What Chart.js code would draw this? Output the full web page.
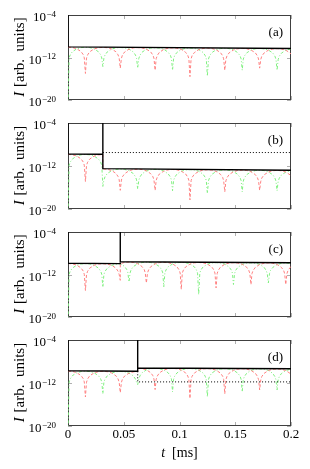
<!DOCTYPE html>
<html>
<head>
<meta charset="utf-8">
<script src="https://cdn.jsdelivr.net/npm/chart.js@4.4.0/dist/chart.umd.min.js"></script>
<style>
  body { margin: 0; background: #fff; }
  #wrap { position: relative; width: 310px; height: 469px; background: #fff; }
  #wrap canvas { position: absolute; left: 0; top: 0; }
</style>
</head>
<body>
<div id="wrap">
  <canvas id="pa" width="310" height="469"></canvas>
  <canvas id="pb" width="310" height="469"></canvas>
  <canvas id="pc" width="310" height="469"></canvas>
  <canvas id="pd" width="310" height="469"></canvas>
</div>
<script>
// sample times [ms], denser next to the dips; switch instants appear twice
const tGreen = [
  0, 0.001, 0.002, 0.0039, 0.0078, 0.0117, 0.0156, 0.0195, 0.0234, 0.0273, 0.0293, 0.0303,
  0.03125, 0.0322, 0.0332, 0.0352, 0.0391, 0.043, 0.0469, 0.0508, 0.0547, 0.0586, 0.0605, 0.0615,
  0.0625, 0.0635, 0.0645, 0.0664, 0.0703, 0.0742, 0.0781, 0.082, 0.0859, 0.0898, 0.0918, 0.0928,
  0.09375, 0.0947, 0.0957, 0.0977, 0.1016, 0.1055, 0.1094, 0.1133, 0.1172, 0.1211, 0.123, 0.124,
  0.125, 0.126, 0.127, 0.1289, 0.1328, 0.1367, 0.1406, 0.1445, 0.1484, 0.1523, 0.1543, 0.1553,
  0.15625, 0.1572, 0.1582, 0.1602, 0.1641, 0.168, 0.1719, 0.1758, 0.1797, 0.1836, 0.1855, 0.1865,
  0.1875, 0.1885, 0.1895, 0.1914, 0.1953, 0.1992, 0.2
];
const tRed = [
  0, 0.0039, 0.0078, 0.0117, 0.0137, 0.0146,
  0.015625, 0.0166, 0.0176, 0.0195, 0.0234, 0.0273, 0.03125, 0.03125, 0.0352, 0.0391, 0.043, 0.0449, 0.0459,
  0.046875, 0.0479, 0.0488, 0.0508, 0.0547, 0.0586, 0.0625, 0.0625, 0.0664, 0.0703, 0.0742, 0.0762, 0.0771,
  0.078125, 0.0791, 0.0801, 0.082, 0.0859, 0.0898, 0.0938, 0.0977, 0.1016, 0.1055, 0.1074, 0.1084,
  0.109375, 0.1104, 0.1113, 0.1133, 0.1172, 0.1211, 0.125, 0.1289, 0.1328, 0.1367, 0.1387, 0.1396,
  0.140625, 0.1416, 0.1426, 0.1445, 0.1484, 0.1523, 0.1563, 0.1602, 0.1641, 0.168, 0.1699, 0.1709,
  0.171875, 0.1729, 0.1738, 0.1758, 0.1797, 0.1836, 0.1875, 0.1914, 0.1953, 0.1992, 0.2
];
// panel (c) changes phase at its switch
const tGreenC = [
  0, 0.001, 0.002, 0.0039, 0.0078, 0.0117, 0.0156, 0.0195, 0.0234, 0.0273, 0.0293, 0.0303,
  0.03125, 0.0322, 0.0332, 0.0352, 0.0391, 0.043, 0.046875, 0.046875, 0.0508, 0.0527, 0.0537,
  0.0547, 0.0557, 0.0566, 0.0586, 0.0625, 0.0664, 0.0703, 0.0742, 0.0781, 0.082, 0.084, 0.085,
  0.0859, 0.0869, 0.0879, 0.0898, 0.0938, 0.0977, 0.1016, 0.1055, 0.1094, 0.1133, 0.1152, 0.1162,
  0.1172, 0.1182, 0.1191, 0.1211, 0.125, 0.1289, 0.1328, 0.1367, 0.1406, 0.1445, 0.1465, 0.1475,
  0.1484, 0.1494, 0.1504, 0.1523, 0.1563, 0.1602, 0.1641, 0.168, 0.1719, 0.1758, 0.1777, 0.1787,
  0.1797, 0.1807, 0.1816, 0.1836, 0.1875, 0.1914, 0.1953, 0.1992, 0.2
];
const tRedC = [
  0, 0.0039, 0.0078, 0.0117, 0.0137, 0.0146,
  0.015625, 0.0166, 0.0176, 0.0195, 0.0234, 0.0273, 0.03125, 0.0352, 0.0391, 0.043, 0.0449, 0.0459,
  0.046875, 0.046875, 0.0508, 0.0547, 0.0586, 0.0625, 0.0664, 0.0684, 0.0693,
  0.0703, 0.0713, 0.0723, 0.0742, 0.0781, 0.082, 0.0859, 0.0898, 0.0938, 0.0977, 0.0996, 0.1006,
  0.1016, 0.1025, 0.1035, 0.1055, 0.1094, 0.1133, 0.1172, 0.1211, 0.125, 0.1289, 0.1309, 0.1318,
  0.1328, 0.1338, 0.1348, 0.1367, 0.1406, 0.1445, 0.1484, 0.1523, 0.1563, 0.1602, 0.1621, 0.1631,
  0.1641, 0.165, 0.166, 0.168, 0.1719, 0.1758, 0.1797, 0.1836, 0.1875, 0.1914, 0.1934, 0.1943,
  0.1953, 0.1963, 0.1973, 0.1992, 0.2
];

// panel (a)
const aGreen = [
  1e-21, 8.2e-13, 3.2e-12, 1.2e-11, 4.3e-11, 7.3e-11, 8.5e-11, 7.3e-11, 4.3e-11, 1.2e-11, 3.2e-12, 8.2e-13,
  2e-14, 7.4e-13, 2.9e-12, 1.1e-11, 3.9e-11, 6.6e-11, 7.7e-11, 6.6e-11, 3.9e-11, 1.1e-11, 2.9e-12, 7.4e-13,
  1e-14, 6.6e-13, 2.6e-12, 1.0e-11, 3.5e-11, 5.9e-11, 6.9e-11, 5.9e-11, 3.5e-11, 1.0e-11, 2.6e-12, 6.6e-13,
  4e-15, 6.0e-13, 2.4e-12, 9.1e-12, 3.1e-11, 5.3e-11, 6.2e-11, 5.3e-11, 3.1e-11, 9.1e-12, 2.4e-12, 6.0e-13,
  3e-16, 5.3e-13, 2.1e-12, 8.0e-12, 2.8e-11, 4.7e-11, 5.5e-11, 4.7e-11, 2.8e-11, 8.0e-12, 2.1e-12, 5.3e-13,
  4e-15, 4.8e-13, 1.9e-12, 7.3e-12, 2.5e-11, 4.3e-11, 5.0e-11, 4.3e-11, 2.5e-11, 7.3e-12, 1.9e-12, 4.8e-13,
  4e-15, 4.3e-13, 1.7e-12, 6.6e-12, 2.3e-11, 3.8e-11, 4.1e-11
];
const aRed = [
  9.0e-11, 7.7e-11, 4.5e-11, 1.3e-11, 3.4e-12, 8.6e-13,
  1e-15, 7.8e-13, 3.1e-12, 1.2e-11, 4.1e-11, 6.9e-11, 8.1e-11, 8.1e-11, 6.9e-11, 4.1e-11, 1.2e-11, 3.1e-12, 7.8e-13,
  1e-14, 7.0e-13, 2.8e-12, 1.1e-11, 3.7e-11, 6.2e-11, 7.3e-11, 7.3e-11, 6.2e-11, 3.7e-11, 1.1e-11, 2.8e-12, 7.0e-13,
  4e-15, 6.2e-13, 2.5e-12, 9.5e-12, 3.3e-11, 5.6e-11, 6.5e-11, 5.6e-11, 3.3e-11, 9.5e-12, 2.5e-12, 6.2e-13,
  2.5e-16, 5.6e-13, 2.2e-12, 8.5e-12, 2.9e-11, 5.0e-11, 5.8e-11, 5.0e-11, 2.9e-11, 8.5e-12, 2.2e-12, 5.6e-13,
  4e-15, 5.0e-13, 2.0e-12, 7.6e-12, 2.6e-11, 4.4e-11, 5.2e-11, 4.4e-11, 2.6e-11, 7.6e-12, 2.0e-12, 5.0e-13,
  1e-14, 4.5e-13, 1.8e-12, 6.9e-12, 2.4e-11, 4.0e-11, 4.7e-11, 4.0e-11, 2.4e-11, 6.9e-12, 4.5e-12
];
const aBlackT = [0, 0, 0.2];
const aBlackY = [1e-4, 1e-10, 5e-11];

// panel (b)
const bGreen = [
  1e-21, 1.3e-12, 5.3e-12, 2.0e-11, 7.0e-11, 1.2e-10, 1.4e-10, 1.2e-10, 7.0e-11, 2.0e-11, 5.3e-12, 1.3e-12,
  1.6e-16, 2.6e-15, 1.0e-14, 3.9e-14, 1.35e-13, 2.3e-13, 2.7e-13, 2.3e-13, 1.35e-13, 3.9e-14, 1.0e-14, 2.6e-15,
  5e-17, 2.3e-15, 9.1e-15, 3.5e-14, 1.2e-13, 2.05e-13, 2.4e-13, 2.05e-13, 1.2e-13, 3.5e-14, 9.1e-15, 2.3e-15,
  2.5e-17, 2.0e-15, 8.0e-15, 3.1e-14, 1.05e-13, 1.8e-13, 2.1e-13, 1.8e-13, 1.05e-13, 3.1e-14, 8.0e-15, 2.0e-15,
  8e-18, 1.8e-15, 7.0e-15, 2.7e-14, 9.3e-14, 1.58e-13, 1.85e-13, 1.58e-13, 9.3e-14, 2.7e-14, 7.0e-15, 1.8e-15,
  1.6e-17, 1.6e-15, 6.2e-15, 2.4e-14, 8.2e-14, 1.39e-13, 1.63e-13, 1.39e-13, 8.2e-14, 2.4e-14, 6.2e-15, 1.6e-15,
  2.5e-17, 1.4e-15, 5.5e-15, 2.1e-14, 7.3e-14, 1.25e-13, 1.32e-13
];
const bRed = [
  1.45e-10, 1.24e-10, 7.3e-11, 2.1e-11, 5.5e-12, 1.4e-12,
  1.3e-15, 1.3e-12, 5.1e-12, 2.0e-11, 6.8e-11, 1.15e-10, 1.35e-10, 2.9e-13, 2.5e-13, 1.45e-13, 4.2e-14, 1.1e-14, 2.8e-15,
  3e-17, 2.4e-15, 9.7e-15, 3.7e-14, 1.3e-13, 2.2e-13, 2.55e-13, 2.55e-13, 2.2e-13, 1.3e-13, 3.7e-14, 9.7e-15, 2.4e-15,
  3e-17, 2.2e-15, 8.5e-15, 3.3e-14, 1.1e-13, 1.9e-13, 2.24e-13, 1.9e-13, 1.1e-13, 3.3e-14, 8.5e-15, 2.2e-15,
  5e-19, 1.9e-15, 7.5e-15, 2.9e-14, 9.9e-14, 1.68e-13, 1.97e-13, 1.68e-13, 9.9e-14, 2.9e-14, 7.5e-15, 1.9e-15,
  1.6e-17, 1.7e-15, 6.6e-15, 2.5e-14, 8.7e-14, 1.49e-13, 1.74e-13, 1.49e-13, 8.7e-14, 2.5e-14, 6.6e-15, 1.7e-15,
  3e-17, 1.5e-15, 5.8e-15, 2.2e-14, 7.7e-14, 1.31e-13, 1.53e-13, 1.31e-13, 7.7e-14, 2.2e-14, 1.5e-14
];
const bBlackT = [0, 0, 0.03125, 0.03125, 0.03125, 0.2];
const bBlackY = [1e-4, 1.6e-10, 1.5e-10, 1e-4, 3.2e-13, 1.6e-13];
const bDotT = [0.03125, 0.2];
const bDotY = [3.2e-10, 3.2e-10];

// panel (c)
const cGreen = [
  1e-21, 1.1e-12, 4.3e-12, 1.6e-11, 5.6e-11, 9.6e-11, 1.12e-10, 9.6e-11, 5.6e-11, 1.6e-11, 4.3e-12, 1.1e-12,
  4e-15, 9.8e-13, 3.9e-12, 1.5e-11, 5.1e-11, 8.7e-11, 1.02e-10, 1.1e-10, 3.2e-11, 8.4e-12, 2.1e-12,
  4e-14, 2.0e-12, 8.0e-12, 3.1e-11, 1.05e-10, 1.8e-10, 2.1e-10, 1.8e-10, 1.05e-10, 3.1e-11, 8.0e-12, 2.0e-12,
  5e-15, 1.8e-12, 7.3e-12, 2.8e-11, 9.6e-11, 1.64e-10, 1.92e-10, 1.64e-10, 9.6e-11, 2.8e-11, 7.3e-12, 1.8e-12,
  1.6e-16, 1.7e-12, 6.7e-12, 2.6e-11, 8.8e-11, 1.5e-10, 1.75e-10, 1.5e-10, 8.8e-11, 2.6e-11, 6.7e-12, 1.7e-12,
  1.3e-14, 1.5e-12, 6.1e-12, 2.3e-11, 8.0e-11, 1.37e-10, 1.6e-10, 1.37e-10, 8.0e-11, 2.3e-11, 6.1e-12, 1.5e-12,
  2.5e-14, 1.4e-12, 5.5e-12, 2.1e-11, 7.3e-11, 1.25e-10, 1.46e-10, 1.23e-10, 1.14e-10
];
const cRed = [
  1.17e-10, 1.0e-10, 5.9e-11, 1.7e-11, 4.4e-12, 1.1e-12,
  1e-15, 1.0e-12, 4.1e-12, 1.6e-11, 5.4e-11, 9.1e-11, 1.07e-10, 9.1e-11, 5.4e-11, 1.6e-11, 4.1e-12, 1.0e-12,
  8e-14, 1.1e-10, 1.9e-10, 2.2e-10, 1.86e-10, 1.08e-10, 3.1e-11, 8.0e-12, 2.0e-12,
  2.5e-14, 1.9e-12, 7.6e-12, 2.9e-11, 1.0e-10, 1.7e-10, 2.0e-10, 1.7e-10, 1.0e-10, 2.9e-11, 7.6e-12, 1.9e-12,
  1.6e-15, 1.8e-12, 7.0e-12, 2.7e-11, 9.2e-11, 1.56e-10, 1.83e-10, 1.56e-10, 9.2e-11, 2.7e-11, 7.0e-12, 1.8e-12,
  3e-15, 1.6e-12, 6.3e-12, 2.4e-11, 8.4e-11, 1.43e-10, 1.67e-10, 1.43e-10, 8.4e-11, 2.4e-11, 6.3e-12, 1.6e-12,
  1.3e-14, 1.5e-12, 5.8e-12, 2.2e-11, 7.6e-11, 1.3e-10, 1.52e-10, 1.3e-10, 7.6e-11, 2.2e-11, 5.8e-12, 1.5e-12,
  1.3e-14, 1.4e-12, 5.5e-12, 2.1e-11, 3.0e-11
];
const cBlackT = [0, 0, 0.046875, 0.046875, 0.046875, 0.2];
const cBlackY = [1e-4, 1.3e-10, 1.13e-10, 1e-4, 2.5e-10, 1.6e-10];

// panel (d)
const dGreen = [
  1e-21, 1.5e-12, 6.0e-12, 2.3e-11, 7.9e-11, 1.35e-10, 1.58e-10, 1.35e-10, 7.9e-11, 2.3e-11, 6.0e-12, 1.5e-12,
  1e-14, 1.4e-12, 5.4e-12, 2.1e-11, 7.1e-11, 1.21e-10, 1.42e-10, 1.21e-10, 7.1e-11, 2.1e-11, 5.4e-12, 1.4e-12,
  5e-13, 5.3e-12, 2.1e-11, 8.0e-11, 2.75e-10, 4.7e-10, 5.5e-10, 4.7e-10, 2.75e-10, 8.0e-11, 2.1e-11, 5.3e-12,
  2.2e-14, 4.9e-12, 1.9e-11, 7.4e-11, 2.5e-10, 4.3e-10, 5.07e-10, 4.3e-10, 2.5e-10, 7.4e-11, 1.9e-11, 4.9e-12,
  2.5e-15, 4.5e-12, 1.8e-11, 6.8e-11, 2.35e-10, 4.0e-10, 4.69e-10, 4.0e-10, 2.35e-10, 6.8e-11, 1.8e-11, 4.5e-12,
  2.2e-14, 4.2e-12, 1.6e-11, 6.3e-11, 2.2e-10, 3.7e-10, 4.33e-10, 3.7e-10, 2.2e-10, 6.3e-11, 1.6e-11, 4.2e-12,
  5e-14, 3.9e-12, 1.5e-11, 5.9e-11, 2.0e-10, 3.5e-10, 3.7e-10
];
const dRed = [
  1.67e-10, 1.43e-10, 8.4e-11, 2.4e-11, 6.3e-12, 1.6e-12,
  2.5e-15, 1.4e-12, 5.7e-12, 2.2e-11, 7.5e-11, 1.28e-10, 1.5e-10, 1.5e-10, 1.28e-10, 7.5e-11, 2.2e-11, 5.7e-12, 1.4e-12,
  1.6e-14, 1.3e-12, 5.1e-12, 2.0e-11, 6.8e-11, 1.15e-10, 1.35e-10, 5.7e-10, 4.9e-10, 2.85e-10, 8.3e-11, 2.2e-11, 5.5e-12,
  6e-14, 5.1e-12, 2.0e-11, 7.7e-11, 2.6e-10, 4.5e-10, 5.27e-10, 4.5e-10, 2.6e-10, 7.7e-11, 2.0e-11, 5.1e-12,
  1.3e-15, 4.7e-12, 1.85e-11, 7.1e-11, 2.4e-10, 4.2e-10, 4.87e-10, 4.2e-10, 2.4e-10, 7.1e-11, 1.85e-11, 4.7e-12,
  1e-14, 4.3e-12, 1.7e-11, 6.6e-11, 2.25e-10, 3.8e-10, 4.5e-10, 3.8e-10, 2.25e-10, 6.6e-11, 1.7e-11, 4.3e-12,
  5e-14, 4.0e-12, 1.6e-11, 6.1e-11, 2.1e-10, 3.6e-10, 4.17e-10, 3.6e-10, 2.1e-10, 6.1e-11, 4.0e-11
];
const dBlackT = [0, 0, 0.0625, 0.0625, 0.0625, 0.2];
const dBlackY = [1e-4, 1.86e-10, 1.5e-10, 1e-4, 6.3e-10, 4.5e-10];
const dDotT = [0.0625, 0.0625, 0.2];
const dDotY = [1.5e-10, 1.6e-12, 1.6e-12];

// axes
const xTickVals = [0, 0.05, 0.1, 0.15, 0.2];
const xTickLabels = ['0', '0.05', '0.1', '0.15', '0.2'];
const yTickVals = [1e-20, 1e-12, 1e-4];
const yTickExps = ['\u221220', '\u221212', '\u22124'];
const panelLabels = ['(a)', '(b)', '(c)', '(d)'];

const SERIF = '"Liberation Serif", "DejaVu Serif", serif';

function pts(ts, ys) {
  return ts.map((t, i) => ({ x: t, y: ys[i] }));
}

// frame + inward ticks under the data, labels on top
const framePlugin = {
  id: 'frame',
  beforeDatasetsDraw(chart) {
    const { ctx, chartArea: a, scales: { x, y } } = chart;
    ctx.save();
    ctx.strokeStyle = '#b0b0b0';
    ctx.lineWidth = 1;
    ctx.beginPath();
    xTickVals.forEach(v => {
      const px = Math.round(x.getPixelForValue(v)) + 0.5;
      ctx.moveTo(px, a.bottom); ctx.lineTo(px, a.bottom - 4);
      ctx.moveTo(px, a.top); ctx.lineTo(px, a.top + 4);
    });
    yTickVals.forEach(v => {
      const py = Math.round(y.getPixelForValue(v)) + 0.5;
      ctx.moveTo(a.left, py); ctx.lineTo(a.left + 4, py);
      ctx.moveTo(a.right, py); ctx.lineTo(a.right - 4, py);
    });
    ctx.stroke();
    ctx.strokeStyle = '#404040';
    ctx.strokeRect(a.left + 0.5, a.top + 0.5, a.right - a.left - 1, a.bottom - a.top - 1);
    ctx.restore();
  },
  afterDraw(chart, args, opts) {
    const { ctx, chartArea: a, scales: { x, y } } = chart;
    ctx.save();
    ctx.fillStyle = '#000';
    ctx.textBaseline = 'alphabetic';
    // y tick labels 10^n
    yTickVals.forEach((v, i) => {
      const py = y.getPixelForValue(v);
      const right = 56;
      ctx.font = '9px ' + SERIF;
      const we = ctx.measureText(yTickExps[i]).width;
      ctx.textAlign = 'left';
      ctx.fillText(yTickExps[i], right - we, py + 1.5);
      ctx.font = '13px ' + SERIF;
      const wb = ctx.measureText('10').width;
      ctx.fillText('10', right - we - wb - 0.5, py + 6);
    });
    // y title
    ctx.save();
    ctx.translate(23.5, (a.top + a.bottom) / 2);
    ctx.rotate(-Math.PI / 2);
    ctx.font = 'italic 15px ' + SERIF;
    const wI = ctx.measureText('I').width;
    ctx.font = '15px ' + SERIF;
    const rest = ' [arb.  units]';
    const wR = ctx.measureText(rest).width;
    const x0 = -(wI + wR) / 2;
    ctx.font = 'italic 15px ' + SERIF;
    ctx.fillText('I', x0, 0);
    ctx.font = '15px ' + SERIF;
    ctx.fillText(rest, x0 + wI + 1, 0);
    ctx.restore();
    // panel label
    ctx.font = '13px ' + SERIF;
    ctx.textAlign = 'right';
    ctx.fillText(opts.label, 283, a.top + 20.5);
    if (opts.showX) {
      ctx.textAlign = 'center';
      xTickVals.forEach((v, i) => {
        ctx.fillText(xTickLabels[i], x.getPixelForValue(v), a.bottom + 12);
      });
      ctx.font = 'italic 14px ' + SERIF;
      const wt = ctx.measureText('t').width;
      ctx.font = '14px ' + SERIF;
      const wm = ctx.measureText('  [ms]').width;
      const cx = (a.left + a.right) / 2;
      ctx.textAlign = 'left';
      ctx.font = 'italic 14px ' + SERIF;
      ctx.fillText('t', cx - (wt + wm) / 2, 457);
      ctx.font = '14px ' + SERIF;
      ctx.fillText('  [ms]', cx - (wt + wm) / 2 + wt, 457);
    }
    ctx.restore();
  }
};

function makePanel(id, idx, top, bottom, s) {
  const datasets = [
    { data: pts(s.blackT, s.blackY), borderColor: '#000', borderWidth: 1.4 },
  ];
  if (s.dotT) {
    datasets.push({ data: pts(s.dotT, s.dotY), borderColor: '#000', borderWidth: 1, borderDash: [1, 2] });
  }
  datasets.push(
    { data: pts(s.tR, s.red), borderColor: 'rgb(255,128,128)', borderWidth: 1, borderDash: [3, 2] },
    { data: pts(s.tG, s.green), borderColor: 'rgb(128,240,128)', borderWidth: 1, borderDash: [3, 2, 1, 2] }
  );
  datasets.forEach(d => { d.pointRadius = 0; d.tension = 0; d.fill = false; });
  return new Chart(document.getElementById(id), {
    type: 'line',
    data: { datasets },
    options: {
      responsive: false,
      animation: false,
      devicePixelRatio: 1,
      layout: { padding: { left: 68, right: 19, top: top, bottom: 469 - bottom } },
      scales: {
        x: { type: 'linear', min: 0, max: 0.2, display: false },
        y: { type: 'logarithmic', min: 1e-20, max: 1e-4, display: false }
      },
      plugins: {
        legend: { display: false },
        tooltip: { enabled: false },
        frame: { label: panelLabels[idx], showX: idx === 3 }
      }
    },
    plugins: [framePlugin]
  });
}

makePanel('pa', 0, 15, 100, { tR: tRed, red: aRed, tG: tGreen, green: aGreen, blackT: aBlackT, blackY: aBlackY });
makePanel('pb', 1, 123, 209, { tR: tRed, red: bRed, tG: tGreen, green: bGreen, blackT: bBlackT, blackY: bBlackY, dotT: bDotT, dotY: bDotY });
makePanel('pc', 2, 232, 317, { tR: tRedC, red: cRed, tG: tGreenC, green: cGreen, blackT: cBlackT, blackY: cBlackY });
makePanel('pd', 3, 340, 426, { tR: tRed, red: dRed, tG: tGreen, green: dGreen, blackT: dBlackT, blackY: dBlackY, dotT: dDotT, dotY: dDotY });
</script>
</body>
</html>
